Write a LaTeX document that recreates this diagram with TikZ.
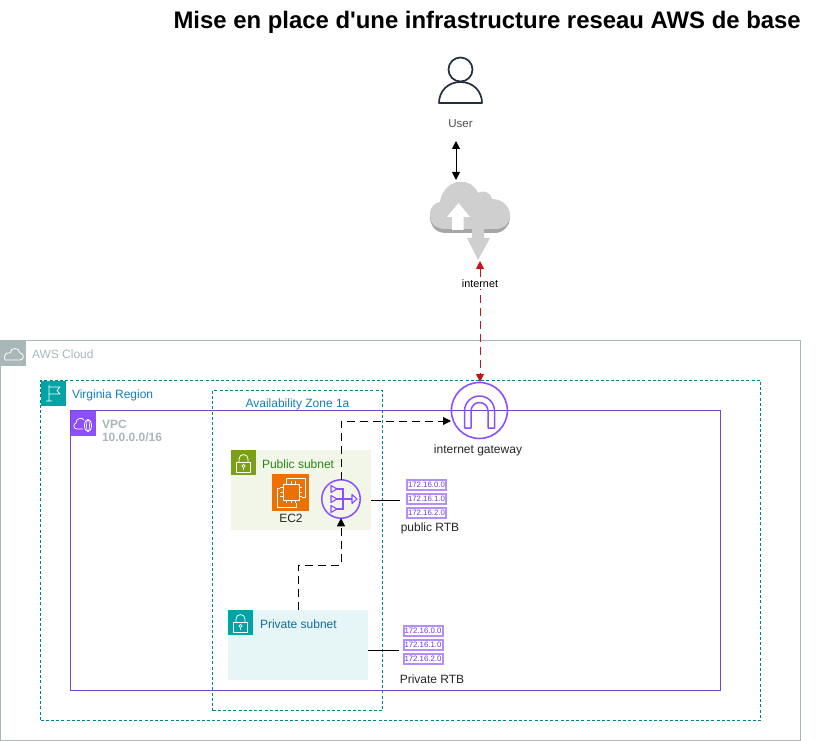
\documentclass[tikz,border=0pt]{standalone}
\usepackage{fontspec}
\setmainfont{Liberation Sans}
\usetikzlibrary{arrows.meta,positioning,calc}
\definecolor{awsgrey}{HTML}{AAB7B8}
\definecolor{teal1}{HTML}{00A4A6}
\definecolor{tealtxt}{HTML}{147EBA}
\definecolor{purp}{HTML}{8C4FFF}
\definecolor{grn}{HTML}{7AA116}
\definecolor{grntxt}{HTML}{248814}
\definecolor{pubfill}{HTML}{F2F6E8}
\definecolor{privfill}{HTML}{E6F6F7}
\definecolor{orng}{HTML}{ED7100}
\definecolor{cloudg}{HTML}{CFCFCF}
\definecolor{cloudd}{HTML}{A6A6A6}
\definecolor{arrowred}{HTML}{C7131F}
\definecolor{dark}{HTML}{232F3E}
\tikzset{
  px/.style={x=1pt,y=-1pt},
  boxn/.style={rectangle,inner sep=0pt,outer sep=0pt,anchor=north west},
  cloudbox/.style={boxn,draw=awsgrey,line width=.9pt},
  regionbox/.style={boxn,draw=teal1!80!black,line width=.9pt,dash pattern=on 3pt off 2.2pt},
  vpcbox/.style={boxn,draw=purp!85!black,line width=1pt},
  badge/.style={boxn,minimum width=#1,minimum height=#1},
  lbl/.style={inner sep=0pt,outer sep=0pt,font=\fontsize{12}{13.5}\selectfont,anchor=west,align=left},
  captxt/.style={inner sep=0pt,outer sep=0pt,font=\fontsize{12}{13.5}\selectfont,text=black!85},
  conn/.style={draw=black,line width=1pt},
  dashconn/.style={conn,dash pattern=on 8pt off 5pt,-{Triangle[length=8pt,width=8pt]}},
  redconn/.style={draw=arrowred,line width=1pt,dash pattern=on 8pt off 5pt,{Triangle[length=8pt,width=8pt]}-{Triangle[length=8pt,width=8pt]}},
  blackconn/.style={conn,{Triangle[length=8pt,width=8pt]}-{Triangle[length=8pt,width=8pt]}},
  rtrow/.style={draw=purp!65,line width=2pt,fill=white,inner sep=0pt,minimum width=39pt,minimum height=10pt,text=purp!75!black,font=\fontsize{7.8}{8}\selectfont}
}
\newcommand{\rtblock}[3]{% name, cx, cy
  \node[rtrow] (#1a) at (#2,#3-14) {172.16.0.0};
  \node[rtrow] (#1b) at (#2,#3) {172.16.1.0};
  \node[rtrow] (#1c) at (#2,#3+14) {172.16.2.0};
}
\newcommand{\lockicon}[3]{% cx cy colour
  \draw[#3,line width=.8pt,fill=none,line join=round] (#1-7,#2-1) rectangle (#1+7,#2+9);
  \draw[#3,line width=.8pt] (#1-4.5,#2-1) -- (#1-4.5,#2-4) arc[start angle=180,end angle=360,radius=4.5] -- (#1+4.5,#2-1);
  \draw[#3,line width=.7pt] (#1,#2+3) circle (1.6);
  \draw[#3,line width=.7pt] (#1,#2+4.6) -- (#1,#2+7);
}
\begin{document}
\begin{tikzpicture}[px]
\useasboundingbox (0,0) rectangle (831,741);
\fill[white] (0,0) rectangle (831,741);

% title
\node[inner sep=0pt,anchor=east,font=\bfseries\fontsize{23.9}{28}\selectfont] (title) at (801,22) {Mise en place d\textquotesingle une infrastructure reseau AWS de base};

% containers
\node[cloudbox,minimum width=800pt,minimum height=400pt] (aws) at (0.5,340.5) {};
\node[regionbox,minimum width=720pt,minimum height=340pt] (region) at (40.5,380.5) {};
\node[vpcbox,minimum width=650pt,minimum height=280pt] (vpc) at (70.5,410.5) {};
\node[regionbox,minimum width=170pt,minimum height=320pt] (az) at (212.5,390.5) {};
\node[boxn,fill=pubfill,minimum width=140pt,minimum height=80pt] (pub) at (231,450) {};
\node[boxn,fill=privfill,minimum width=140pt,minimum height=70pt] (priv) at (228,610) {};

% badges
\node[badge=25pt,fill=awsgrey] (awsb) at (0.5,340.5) {};
\draw[white,line width=.8pt,line join=round] (5,360) .. controls (3,355) and (7,352) .. (10,353) .. controls (11,347) and (19,347) .. (20,353) .. controls (24,353) and (25,360) .. (20,360) -- cycle;
\node[lbl,text=awsgrey] (awsl) at (32,354) {AWS Cloud};

\node[badge=25pt,fill=teal1] (regb) at (40.5,380.5) {};
\draw[white,line width=.8pt,line join=round] (49,401) -- (49,385) (46,401) -- (52,401) (49,387) -- (60,387) -- (57,390.5) -- (60,394) -- (49,394);
\node[lbl,text=tealtxt] (regl) at (72,395) {Virginia Region};

\node[badge=25pt,fill=purp] (vpcb) at (70.5,410.5) {};
\draw[white,line width=.8pt,line join=round] (83,429) -- (77,429) .. controls (73,429) and (73,424) .. (76,423) .. controls (76,418) and (82,417) .. (84,420);
\draw[white,line width=.8pt] (88,425.5) ellipse (3.5 and 6);
\draw[white,line width=.6pt] (88,425.5) ellipse (1.5 and 6);
\node[lbl,text=awsgrey,font=\bfseries\fontsize{12}{13.5}\selectfont] (vpcl) at (102,431) {VPC\\10.0.0.0/16};

\node[captxt,text=tealtxt] (azl) at (297.5,404) {Availability Zone 1a};

\node[badge=25pt,fill=grn] (pubb) at (231,450) {};
\lockicon{243.5}{463}{white}
\node[lbl,text=grntxt] (publ) at (262,464) {Public subnet};

\node[badge=25pt,fill=teal1] (privb) at (228,610) {};
\lockicon{240.5}{623}{white}
\node[lbl,text=tealtxt!85!black] (privl) at (260,624) {Private subnet};

% EC2
\node[boxn,fill=orng,minimum width=37pt,minimum height=37pt] (ec2) at (272,474) {};
\draw[white,line width=.8pt,line join=round] (283,484) rectangle (299,500);
\foreach \p in {286.5,291,295.5}{\draw[white,line width=.6pt] (\p,481) -- (\p,484) (\p,500) -- (\p,503);}
\foreach \p in {487.5,492,496.5}{\draw[white,line width=.6pt] (280,\p) -- (283,\p) (299,\p) -- (302,\p);}
\draw[white,line width=.7pt] (286,481) -- (286,478) -- (305,478) -- (305,497) -- (302,497);
\draw[white,line width=.7pt] (280,488) -- (277,488) -- (277,507) -- (296,507) -- (296,503);
\node[captxt,below=3.5pt of ec2.south,xshift=0.5pt] (ec2l) {EC2};

% NAT
\node[circle,draw=purp,line width=1.5pt,minimum size=38.5pt,inner sep=0pt,outer sep=0pt] (nat) at (341,499) {};
\begin{scope}[purp,line width=1.1pt]
\draw (336,489) -- (343,489) -- (343,509) -- (336,509) (336,499) -- (352,499);
\draw[line join=round] (331,485.5) -- (337,489) -- (331,492.5) -- cycle;
\draw[line join=round] (331,495.5) -- (337,499) -- (331,502.5) -- cycle;
\draw[line join=round] (331,505.5) -- (337,509) -- (331,512.5) -- cycle;
\draw[line join=round] (352,494.5) -- (357,499) -- (352,503.5) -- cycle;
\end{scope}

% route tables
\rtblock{pubrt}{426.5}{498.5}
\node[captxt] (pubrtl) at (430,528) {public RTB};
\rtblock{privrt}{423}{644.5}
\node[captxt] (privrtl) at (432,679) {Private RTB};

% Internet gateway
\node[circle,draw=purp,line width=1.6pt,minimum size=56pt,inner sep=0pt,outer sep=0pt] (igw) at (479.4,410.5) {};
\draw[purp,line width=1.5pt,line join=round] (464.5,428) -- (464.5,411) arc[start angle=180,end angle=360,radius=15] -- (494.5,428) -- (488,428) -- (488,411) arc[start angle=360,end angle=180,radius=8.5] -- (471,428) -- cycle;
\node[captxt] (igwl) at (478,450) {internet gateway};

% user
\draw[dark,line width=1.7pt] (460.5,69.5) circle (12);
\draw[dark,line width=1.7pt,line join=round] (439,103) .. controls (439,91) and (448,82) .. (460.5,82) .. controls (473,82) and (482,91) .. (482,103) -- cycle;
\node[captxt,text=black!70,font=\fontsize{11.5}{13}\selectfont] (userl) at (460.5,124) {User};

% internet cloud
\fill[cloudd] (446,233) .. controls (434,233) and (430,224) .. (430,216) .. controls (430,207) and (435,204) .. (440,203) .. controls (442,191) and (450,182) .. (461,182) .. controls (469,182) and (475,186) .. (478,194) .. controls (482,191) and (490,192) .. (492,200) .. controls (503,200) and (510,208) .. (510,217) .. controls (510,226) and (503,233) .. (495,233) -- cycle;
\fill[cloudg] (446,229) .. controls (434,229) and (430,222) .. (430,215) .. controls (430,206) and (435,203) .. (440,202) .. controls (442,190) and (450,182) .. (461,182) .. controls (469,182) and (475,186) .. (478,193) .. controls (482,190) and (490,191) .. (492,199) .. controls (503,199) and (510,207) .. (510,216) .. controls (510,224) and (503,229) .. (495,229) -- cycle;
\fill[white] (452,230) -- (452,217) -- (447,217) -- (458.5,203) -- (470,217) -- (463.5,217) -- (463.5,230) -- cycle;
\fill[cloudg] (472,226) -- (484,226) -- (484,238) -- (490,238) -- (478,260) -- (467,238) -- (472,238) -- cycle;

% connectors
\coordinate (natTop) at (nat.north);
\coordinate (natBot) at (nat.south);
\coordinate (igwIn) at (451,421);
\coordinate (bend1) at (341,421);
\coordinate (redTop) at (480,261);
\coordinate (redBot) at (480,382);
\coordinate (bend2) at (298,565);
\coordinate (bend3) at (341,565);
\coordinate (privTop) at (298,610);
\coordinate (userEnd) at (456,141);
\coordinate (cloudEnd) at (456,180);
\coordinate (pubEnd) at (399.5,500);
\coordinate (privEnd) at (398.5,650);
\draw[blackconn] (userEnd) -- (cloudEnd);
\draw[redconn] (redTop) -- (redBot);
\node[fill=white,inner sep=1pt,font=\fontsize{10.8}{12}\selectfont] (inetl) at (480,284) {internet};
\draw[dashconn] (natTop) -- (bend1) -- (igwIn);
\draw[dashconn] (privTop) -- (bend2) -- (bend3) -- (natBot);
\draw[conn] (pub.east |- pubEnd) -- (pubEnd);
\draw[conn] (priv.east |- privEnd) -- (privEnd);
\end{tikzpicture}
\end{document}
